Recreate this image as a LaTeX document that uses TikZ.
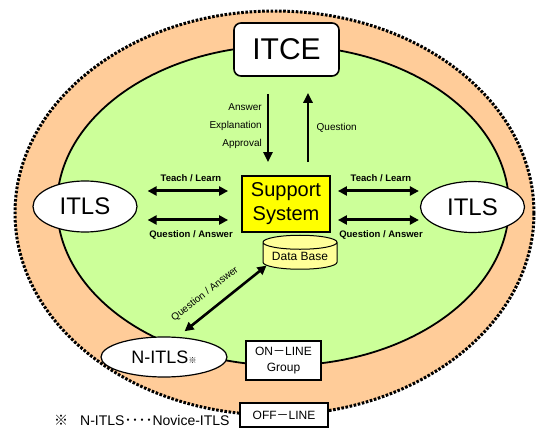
\documentclass[tikz,border=0pt]{standalone}
\usepackage{fontspec}
\setmainfont{Liberation Sans}
\newfontfamily\cjk{Noto Sans CJK JP}
\usetikzlibrary{arrows.meta,shapes.geometric}

\definecolor{ringpeach}{RGB}{255,204,153}
\definecolor{fieldgreen}{RGB}{204,255,153}
\definecolor{sysyellow}{RGB}{255,255,0}
\definecolor{dbyellow}{RGB}{255,255,153}

\begin{document}
\begin{tikzpicture}[x=1pt,y=-1pt,
  ring/.style={fill=ringpeach,draw=black,line width=3pt,dash pattern=on 2.6pt off 1.6pt},
  field/.style={fill=fieldgreen,draw=black,line width=1.8pt},
  itcebox/.style={draw,fill=white,line width=1.6pt,rounded corners=7pt,
    minimum width=105pt,minimum height=53pt,inner sep=0pt,font=\fontsize{30}{32}\selectfont},
  sysbox/.style={draw,fill=sysyellow,line width=1.8pt,minimum width=88pt,minimum height=56pt,
    inner sep=0pt,align=center,font=\fontsize{20}{24}\selectfont},
  dbcyl/.style={cylinder,shape border rotate=90,aspect=0.25,draw,fill=dbyellow,line width=1pt,
    minimum width=74pt,minimum height=34pt,inner sep=0pt,font=\fontsize{12}{14}\selectfont},
  lsell/.style={ellipse,draw,fill=white,line width=1.2pt,inner sep=0pt,
    minimum width=104pt,minimum height=51pt,font=\fontsize{24}{26}\selectfont},
  groupbox/.style={draw,fill=white,line width=1.8pt,inner sep=0pt,align=center,
    minimum width=75pt,minimum height=39pt,font=\fontsize{12}{16}\selectfont},
  lbl/.style={inner sep=0pt,font=\fontsize{10}{12}\selectfont},
  blbl/.style={inner sep=0pt,font=\bfseries\fontsize{9.5}{11}\selectfont},
  harrow/.style={line width=3pt,{Triangle[length=9pt,width=9pt]}-{Triangle[length=9pt,width=9pt]}},
  varrow/.style={line width=2.6pt,-{Triangle[length=10pt,width=9pt]}},
  darrow/.style={line width=2.6pt,{Triangle[length=9pt,width=9pt]}-{Triangle[length=9pt,width=9pt]}}
]
\useasboundingbox (0,0) rectangle (542,428);
\fill[white] (0,0) rectangle (542,428);

% off-line ring and on-line field
\draw[ring] (274.5,213) ellipse [x radius=259.5, y radius=202];
\draw[field] (283,205.5) ellipse [x radius=226, y radius=160];

% main nodes
\node[itcebox] (itce) at (286.5,49.5) {ITCE};
\node[sysbox] (support) at (286,204) {Support\\System};
\node[dbcyl] (db) at (300,256) {Data Base};
\node[lsell] (itlsL) at (85,206.5) {ITLS};
\node[lsell] (itlsR) at (472.5,207) {ITLS};
\node[lsell,minimum width=126pt,minimum height=40pt] (nitls) at (164,357)
  {\fontsize{18}{20}\selectfont N-ITLS{\cjk\fontsize{8}{8}\selectfont ※}};
\node[groupbox] (online) at (283.5,360.5) {ON{\cjk －}LINE\\Group};
\node[groupbox,minimum width=88pt,minimum height=24pt] (offline) at (284,415) {OFF{\cjk －}LINE};

% ITCE <-> support system
\draw[varrow] ([xshift=-18.5pt,yshift=-17pt]itce.south) -- ([xshift=-18pt,yshift=13pt]support.north);
\draw[varrow] ([xshift=22pt,yshift=13pt]support.north) -- ([xshift=21.5pt,yshift=-16pt]itce.south);
\node[lbl,anchor=east,align=right,font=\fontsize{10}{18}\selectfont] (downlbl) at (262,126)
  {Answer\\Explanation\\Approval};
\node[lbl,anchor=west] (uplbl) at (316.5,128) {Question};

% ITLS <-> support system
\draw[harrow] ([xshift=10pt,yshift=15.5pt]itlsL.east) -- ([xshift=-13pt,yshift=13pt]support.west);
\draw[harrow] ([xshift=10pt,yshift=-13.5pt]itlsL.east) -- ([xshift=-13pt,yshift=-16pt]support.west);
\draw[harrow] ([xshift=7pt,yshift=13pt]support.east) -- ([xshift=-1pt,yshift=16pt]itlsR.west);
\draw[harrow] ([xshift=7pt,yshift=-16pt]support.east) -- ([xshift=-1pt,yshift=-13pt]itlsR.west);
\node[blbl] (tlL) at (191,178) {Teach / Learn};
\node[blbl] (qaL) at (191,235) {Question / Answer};
\node[blbl] (tlR) at (381,178) {Teach / Learn};
\node[blbl] (qaR) at (381,235) {Question / Answer};

% N-ITLS <-> data base
\draw[darrow,shorten <=9pt] (nitls.56) -- (db.196);
\node[lbl,rotate=38] (qaD) at (205,294) {Question / Answer};

% footnote
\node[anchor=base west,inner sep=0pt,font=\fontsize{14}{16}\selectfont] (note) at (54,425.5)
  {{\cjk ※}\hspace{12pt}N-ITLS{\cjk ････}Novice-ITLS};
\end{tikzpicture}
\end{document}
